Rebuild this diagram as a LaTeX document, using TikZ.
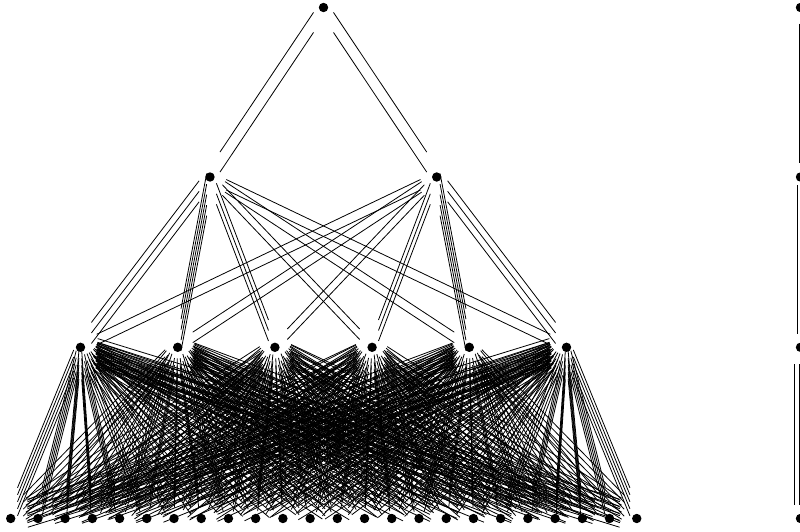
\documentclass[tikz,border=0pt]{standalone}
\usetikzlibrary{positioning}

\tikzset{
  dot/.style={circle, fill=black, inner sep=0pt, minimum size=9.4pt},
  strand/.style={line width=0.8pt, shorten >=18pt, shorten <=18pt},
}

% #1,#2 = nodes, #3 = multiplicity, #4 = vertical spacing of the copies
\newcommand{\multiedge}[4]{%
  \foreach \k in {1,...,#3}{
    \pgfmathsetmacro{\off}{(\k-(#3+1)/2)*#4}
    \draw[strand] ([yshift=\off pt]#1.center) -- ([yshift=\off pt]#2.center);
  }}

\begin{document}
\begin{tikzpicture}[x=1pt,y=-1pt]

\useasboundingbox (0,0) rectangle (800,531);

%---------------------------------------
% Levels
%---------------------------------------
\def\yA{7.5}
\def\yB{177}
\def\yC{347.3}
\def\yD{518.5}

\node[dot] (t) at (323.5,\yA) {};
\node[dot] (a1) at (210,\yB) {};
\node[dot] (a2) at (436.7,\yB) {};
\foreach \i in {1,...,6}
  \node[dot] (b\i) at ({80.5+97.2*(\i-1)},\yC) {};
\foreach \j in {1,...,24}
  \node[dot] (d\j) at ({10.7+27.22*(\j-1)},\yD) {};

% right column
\foreach \r/\yy in {0/\yA,1/\yB,2/\yC,3/\yD}
  \node[dot] (r\r) at (800.5,\yy) {};

%---------------------------------------
% Edges
%---------------------------------------
\multiedge{t}{a1}{2}{20}
\multiedge{t}{a2}{2}{20}

\foreach \m [count=\i] in {3,5,3,2,2,2} {\multiedge{a1}{b\i}{\m}{10.5}}
\foreach \m [count=\i] in {2,2,2,3,5,3} {\multiedge{a2}{b\i}{\m}{10.5}}

\foreach \i/\row in {
    1/{5,5,5,5,4,4,4,4,3,4,4,3,4,4,3,4,4,3,4,4,3,4,4,5},
    2/{4,4,3,4,4,3,3,3,4,3,3,4,4,3,4,3,4,4,3,4,3,4,3,4},
    3/{4,3,4,3,4,4,3,3,4,4,3,3,4,3,4,4,3,4,3,4,4,3,4,4},
    4/{4,4,3,4,4,3,4,3,4,4,3,4,3,3,4,4,3,3,4,4,3,4,3,4},
    5/{4,3,4,3,4,3,4,4,3,4,3,4,4,3,3,4,3,3,3,4,4,3,4,4},
    6/{5,4,4,3,4,4,3,4,4,3,4,4,3,4,4,3,4,4,4,4,5,5,5,5}}{
  \foreach \m [count=\j] in \row {\multiedge{b\i}{d\j}{\m}{7}}
}

% right column
\draw[strand, shorten >=14pt, shorten <=16pt] ([xshift=-1.5pt]r0.center) -- ([xshift=-1.5pt]r1.center);
\draw[strand, shorten >=13pt, shorten <=8pt] ([xshift=-3.5pt]r1.center) -- ([xshift=-3.5pt]r2.center);
\draw[strand, shorten >=14pt, shorten <=17pt] ([xshift=-6pt]r2.center) -- ([xshift=-6pt]r3.center);
\draw[strand, shorten >=14pt, shorten <=17pt] ([xshift=-1pt]r2.center) -- ([xshift=-1pt]r3.center);

\end{tikzpicture}
\end{document}
